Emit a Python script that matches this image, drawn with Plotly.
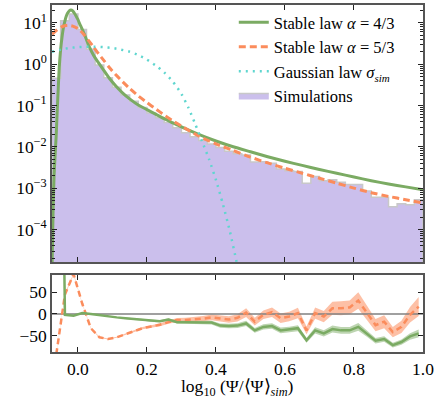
import numpy as np
import plotly.graph_objects as go

# ---------------- data ----------------
bin_lo, bin_hi, n_bins = -0.075, 1.0, 43

# histogram of simulations, log10 of density per bin
hist_log10 = [-0.34, 1.05, 1.21, 0.84, 0.36, -0.02, -0.33, -0.56, -0.75, -0.90,
              -1.05, -1.18, -1.30, -1.41, -1.54, -1.66, -1.76, -1.85, -1.93, -2.02,
              -2.11, -2.17, -2.20, -2.37, -2.36, -2.40, -2.54, -2.58, -2.60, -2.88,
              -2.72, -2.82, -2.80, -2.86, -2.91, -2.91, -3.07, -3.22, -3.22, -3.45,
              -3.38, -3.40, -3.28]

green_x = [-0.075, -0.072, -0.069, -0.066, -0.063, -0.060, -0.057, -0.054, -0.050, -0.046,
           -0.042, -0.038, -0.034, -0.030, -0.025, -0.020, -0.015, -0.010, -0.005, 0.000,
           0.005, 0.010, 0.015, 0.020, 0.030, 0.040, 0.050, 0.060, 0.075, 0.090,
           0.110, 0.130, 0.150, 0.175, 0.200, 0.225, 0.250, 0.275, 0.300, 0.350,
           0.400, 0.450, 0.500, 0.550, 0.600, 0.650, 0.700, 0.750, 0.800, 0.850,
           0.900, 0.950, 1.000]
green_log10 = [-5.0, -3.6, -2.7, -2.2, -1.75, -1.15, -0.6, -0.08, 0.35, 0.65,
               0.88, 1.03, 1.15, 1.23, 1.29, 1.31, 1.29, 1.23, 1.16, 1.08,
               0.98, 0.89, 0.80, 0.70, 0.48, 0.30, 0.15, 0.03, -0.15, -0.33,
               -0.53, -0.70, -0.84, -0.99, -1.10, -1.21, -1.32, -1.42, -1.52, -1.70,
               -1.86, -2.00, -2.12, -2.24, -2.35, -2.45, -2.55, -2.64, -2.73, -2.82,
               -2.90, -2.97, -3.04]

orange_x = [-0.075, -0.06, -0.045, -0.03, -0.015, 0.0, 0.015, 0.03, 0.045, 0.06,
            0.075, 0.09, 0.11, 0.13, 0.15, 0.175, 0.2, 0.225, 0.25, 0.275,
            0.3, 0.35, 0.4, 0.45, 0.5, 0.55, 0.6, 0.65, 0.7, 0.75,
            0.8, 0.85, 0.9, 0.95, 1.0]
orange_log10 = [0.72, 0.83, 0.91, 0.94, 0.92, 0.86, 0.74, 0.58, 0.42, 0.25,
                0.09, -0.07, -0.26, -0.43, -0.59, -0.77, -0.93, -1.08, -1.23, -1.37,
                -1.50, -1.74, -1.93, -2.09, -2.25, -2.39, -2.52, -2.64, -2.76, -2.88,
                -3.00, -3.11, -3.20, -3.28, -3.36]

gauss_x = [-0.075, -0.05, -0.025, 0.0, 0.025, 0.05, 0.075, 0.1, 0.125, 0.15,
           0.175, 0.2, 0.225, 0.25, 0.275, 0.3, 0.32, 0.34, 0.36, 0.38,
           0.40, 0.42, 0.44, 0.46, 0.47]
gauss_log10 = [0.30, 0.35, 0.39, 0.41, 0.42, 0.42, 0.41, 0.39, 0.35, 0.30,
               0.22, 0.11, -0.03, -0.20, -0.42, -0.72, -1.05, -1.45, -1.87, -2.30,
               -2.80, -3.38, -4.03, -4.79, -5.2]

# residuals (%) at bin centres
res_green = [1500, -2, -4, 2, 0, -3, -5, -8, -10, -12,
             -13, -16, -17, -13, -19, -19, -20, -20, -20, -27,
             -28, -27, -22, -38, -30, -28, -38, -36, -33, -61,
             -38, -45, -35, -38, -38, -30, -45, -62, -58, -72,
             -65, -52, -45]
res_green_err = [0, 1, 1, 1, 1, 1, 1, 1, 1.5, 2,
                 2, 2.5, 2.5, 3, 3, 3.5, 4, 4, 4.5, 5,
                 5, 5.5, 6, 5.5, 6, 6.5, 6.5, 6.5, 7, 5.5,
                 7, 7, 8, 8, 8, 9, 7.5, 6.5, 6.5, 5.5,
                 6, 7.5, 9]
res_orange = [-93, 45, 92, 24, -33, -54, -58, -54, -47, -40,
              -33, -29, -25, -19, -14, -14, -13, -11, -8, -10,
              -13, -9, 3, -18, -2, 4, -10, -6, 2, -38,
              2, -6, 13, 13, 15, 31, 2, -26, -18, -42,
              -30, -2, 17]
res_orange_err = [1, 2, 2, 1, 1, 1, 1, 1, 1.5, 2,
                  2.5, 3, 3.5, 4, 4.5, 5, 5.5, 6, 6.5, 7,
                  7.5, 8.5, 10, 9, 10, 11, 11, 11, 12, 9,
                  13, 13, 15, 16, 16, 19, 16, 14, 15, 12,
                  14, 18, 22]

x_ticks = [0.0, 0.2, 0.4, 0.6, 0.8, 1.0]
y_exps = [-4, -3, -2, -1, 0, 1]
res_ticks = [-50, 0, 50]
x_title = "log<sub>10</sub> (Ψ/⟨Ψ⟩<sub><i>sim</i></sub>)"

# ---------------- styles ----------------
GREEN = "#7bab63"
ORANGE = "#fb8c5c"
CYAN = "#5fd6cf"
PURPLE = "#cbbfec"
EDGE = "#c8c8c8"
FONT = "Liberation Serif"
FRAME = "#555555"

edges = np.linspace(bin_lo, bin_hi, n_bins + 1)
centers = 0.5 * (edges[:-1] + edges[1:])
hist = 10 ** np.array(hist_log10)

# step polygon for the filled histogram
px, py = [], []
for i in range(n_bins):
    px += [edges[i], edges[i + 1]]
    py += [hist[i], hist[i]]
floor = 1e-7
px = [edges[0]] + px + [edges[-1], edges[0]]
py = [floor] + py + [floor, floor]

fig = go.Figure()

fig.add_trace(go.Scatter(x=px, y=py, mode="lines", fill="toself", fillcolor=PURPLE,
                         line=dict(color=EDGE, width=1.5), name="Simulations",
                         legendrank=4, xaxis="x", yaxis="y", hoverinfo="skip"))
fig.add_trace(go.Scatter(x=green_x, y=10 ** np.array(green_log10), mode="lines",
                         line=dict(color=GREEN, width=3, shape="spline", smoothing=0.6),
                         name="Stable law <i>α</i> = 4/3", legendrank=1,
                         xaxis="x", yaxis="y"))
fig.add_trace(go.Scatter(x=orange_x, y=10 ** np.array(orange_log10), mode="lines",
                         line=dict(color=ORANGE, width=3, dash="7px,4px", shape="spline", smoothing=0.6),
                         name="Stable law <i>α</i> = 5/3", legendrank=2,
                         xaxis="x", yaxis="y"))
fig.add_trace(go.Scatter(x=gauss_x, y=10 ** np.array(gauss_log10), mode="lines",
                         line=dict(color=CYAN, width=2.5, dash="2px,5px", shape="spline", smoothing=0.6),
                         name="Gaussian law <i>σ</i><span style='font-size:11px;baseline-shift:-4px'><i>sim</i></span>",
                         legendrank=3, xaxis="x", yaxis="y"))

# residual panel
rg = np.array(res_green, dtype=float)
eg = np.array(res_green_err, dtype=float)
ro = np.array(res_orange, dtype=float)
eo = np.array(res_orange_err, dtype=float)

def band(y, e, color):
    fig.add_trace(go.Scatter(x=centers, y=y - e, mode="lines", line=dict(width=0),
                             showlegend=False, xaxis="x2", yaxis="y2", hoverinfo="skip"))
    fig.add_trace(go.Scatter(x=centers, y=y + e, mode="lines", line=dict(width=0),
                             fill="tonexty", fillcolor=color, showlegend=False,
                             xaxis="x2", yaxis="y2", hoverinfo="skip"))

band(ro, eo, "rgba(251,140,92,0.55)")
band(rg, eg, "rgba(123,171,99,0.5)")
fig.add_trace(go.Scatter(x=[bin_lo, bin_hi], y=[0, 0], mode="lines",
                         line=dict(color="#808080", width=1.5), showlegend=False,
                         xaxis="x2", yaxis="y2", hoverinfo="skip"))
fig.add_trace(go.Scatter(x=centers, y=ro, mode="lines",
                         line=dict(color=ORANGE, width=2.5, dash="6px,4px"),
                         showlegend=False, xaxis="x2", yaxis="y2"))
fig.add_trace(go.Scatter(x=centers, y=rg, mode="lines",
                         line=dict(color=GREEN, width=2.5),
                         showlegend=False, xaxis="x2", yaxis="y2"))

minor_vals = [k * 10.0 ** n for n in range(-5, 2) for k in range(2, 10)]

axis_common = dict(showline=True, linecolor=FRAME, linewidth=1.5, mirror="allticks",
                   ticks="inside", tickcolor="#222222", ticklen=5, tickwidth=1.2,
                   showgrid=False, zeroline=False, automargin=False,
                   tickfont=dict(family=FONT, size=17.5, color="black"))

fig.update_layout(
    width=438, height=398,
    margin=dict(l=52, r=15, t=5, b=46),
    paper_bgcolor="white", plot_bgcolor="white",
    font=dict(family=FONT, size=17.5, color="black"),
    showlegend=True,
    legend=dict(x=0.49, xanchor="left", y=1.0, yanchor="top",
                bgcolor="rgba(0,0,0,0)", borderwidth=0, traceorder="normal",
                font=dict(family=FONT, size=16.5, color="black"),
                itemwidth=30, tracegroupgap=0),
    xaxis=dict(domain=[0, 1], anchor="y", range=[bin_lo, bin_hi],
               tickvals=x_ticks, showticklabels=False, **axis_common),
    yaxis=dict(domain=[0.259, 1], anchor="x", type="log", range=[-4.79, 1.43],
               tickvals=[10.0 ** e for e in y_exps],
               ticktext=["10<sup>%s</sup>" % (str(e).replace("-", "−")) for e in y_exps],
               minor=dict(ticks="inside", ticklen=3, tickcolor="#222222",
                          tickvals=minor_vals, showgrid=False),
               **axis_common),
    xaxis2=dict(domain=[0, 1], anchor="y2", range=[bin_lo, bin_hi], matches="x",
                tickvals=x_ticks, ticktext=["%.1f" % v for v in x_ticks],
                **axis_common),
    yaxis2=dict(domain=[0, 0.222], anchor="x2", range=[-88, 90],
                tickvals=res_ticks,
                ticktext=[str(v).replace("-", "−") for v in res_ticks],
                **axis_common),
    annotations=[dict(text=x_title, xref="paper", yref="paper", x=0.5, y=-0.101,
                      xanchor="center", yanchor="middle", showarrow=False,
                      font=dict(family=FONT, size=17.5, color="black"))],
)

fig.write_html("out.html", config={"displayModeBar": False},
               post_script="document.body.style.margin='0';document.body.style.padding='0';")
